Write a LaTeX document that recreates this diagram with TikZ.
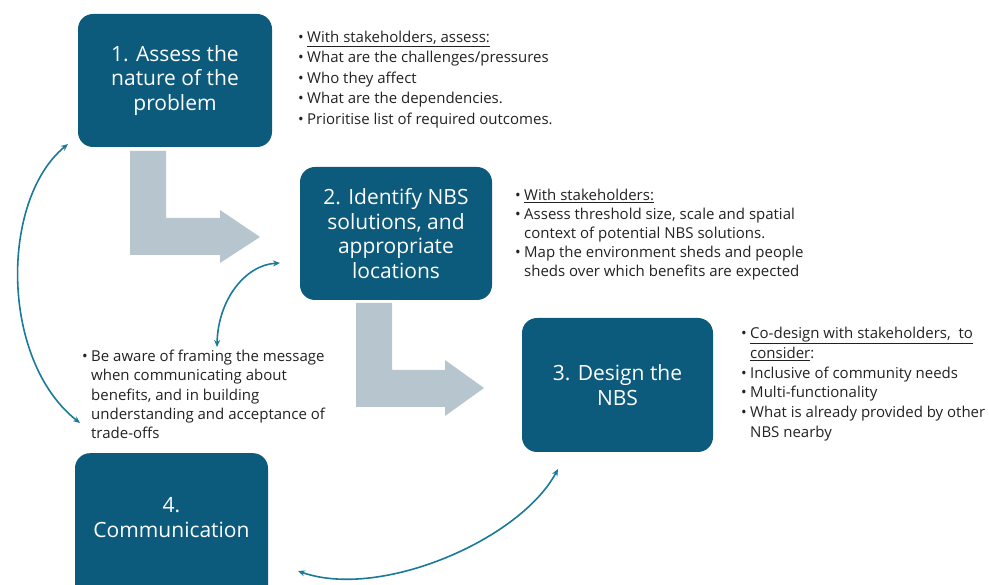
\documentclass[tikz,border=0pt]{standalone}
\usepackage{fontspec}
\setmainfont{Open Sans}
\usetikzlibrary{arrows.meta}
\definecolor{boxblue}{HTML}{0C5A7C}
\definecolor{arrteal}{HTML}{1A7A99}
\definecolor{flowgray}{HTML}{B7C5CF}
\definecolor{txtgray}{HTML}{222222}
\newcommand\bu{\makebox[9pt][l]{\textbullet}}
\newcommand\ind{\hspace*{9pt}}
\tikzset{
  stagebox/.style={fill=boxblue, rounded corners=15pt, draw=none, text=white,
    align=center, inner sep=0pt, font=\fontsize{21}{24.5}\selectfont},
  notelist/.style={anchor=north west, align=left, inner sep=0pt, text=txtgray,
    font=\fontsize{15}{20.4}\selectfont},
  loop/.style={draw=arrteal, line width=1.6pt,
    {Stealth[length=7pt,width=6pt]}-{Stealth[length=7pt,width=6pt]}},
}
\begin{document}
\begin{tikzpicture}[x=1pt,y=-1pt]
\useasboundingbox (0,0) rectangle (989,585);
% gray flow arrows
\fill[flowgray] (130,151) -- (166,151) -- (166,218) -- (220,218) -- (220,210)
  -- (260,237) -- (220,263) -- (220,255) -- (130,255) -- cycle;
\fill[flowgray] (356,303) -- (392,303) -- (392,370) -- (445,370) -- (445,360)
  -- (484,388) -- (445,416) -- (445,407) -- (356,407) -- cycle;
% stage boxes
\node[stagebox, minimum width=194pt, minimum height=133pt] (b1) at (175,80.5)
  {1. Assess the\\nature of the\\problem};
\node[stagebox, minimum width=192pt, minimum height=133pt] (b2) at (396,233.5)
  {2. Identify NBS\\solutions, and\\appropriate\\locations};
\node[stagebox, minimum width=191pt, minimum height=134pt] (b3) at (617.5,385)
  {3. Design the\\NBS};
\node[stagebox, minimum width=193pt, minimum height=170pt, anchor=north] (b4) at (171.5,453) {};
\node[text=white, align=center, inner sep=0pt, font=\fontsize{21}{25}\selectfont] (b4t) at (171.5,518)
  {4.\\Communication};
% notes
\node[notelist] (n1) at (298,31)
  {\bu\underline{With stakeholders, assess:}\\
   \bu What are the challenges/pressures\\
   \bu Who they affect\\
   \bu What are the dependencies.\\
   \bu Prioritise list of required outcomes.};
\node[notelist, font=\fontsize{15}{19.1}\selectfont] (n2) at (515,189)
  {\bu\underline{With stakeholders:}\\
   \bu Assess threshold size, scale and spatial\\
   \ind context of potential NBS solutions.\\
   \bu Map the environment sheds and people\\
   \ind sheds over which benefits are expected};
\node[notelist, font=\fontsize{15}{19.8}\selectfont] (n3) at (741,327)
  {\bu\underline{Co-design with stakeholders,\ \ to}\\
   \ind\underline{consider}:\\
   \bu Inclusive of community needs\\
   \bu Multi-functionality\\
   \bu What is already provided by other\\
   \ind NBS nearby};
\node[notelist, font=\fontsize{15}{19.3}\selectfont] (n4) at (82,350)
  {\bu Be aware of framing the message\\
   \ind when communicating about\\
   \ind benefits, and in building\\
   \ind understanding and acceptance of\\
   \ind trade-offs};
% loop connectors
\coordinate (l1a) at (68,144);
\coordinate (l1b) at (80,423);
\coordinate (l2a) at (217,347);
\coordinate (l2b) at (280,263);
\coordinate (l3a) at (298,571);
\coordinate (l3b) at (558,469);
\draw[loop] (l1a) .. controls (0,200) and (0,360) .. (l1b);
\draw[loop] (l2a) .. controls (218,300) and (245,265) .. (l2b);
\draw[loop] (l3a) .. controls (380,600) and (520,540) .. (l3b);
\end{tikzpicture}
\end{document}
